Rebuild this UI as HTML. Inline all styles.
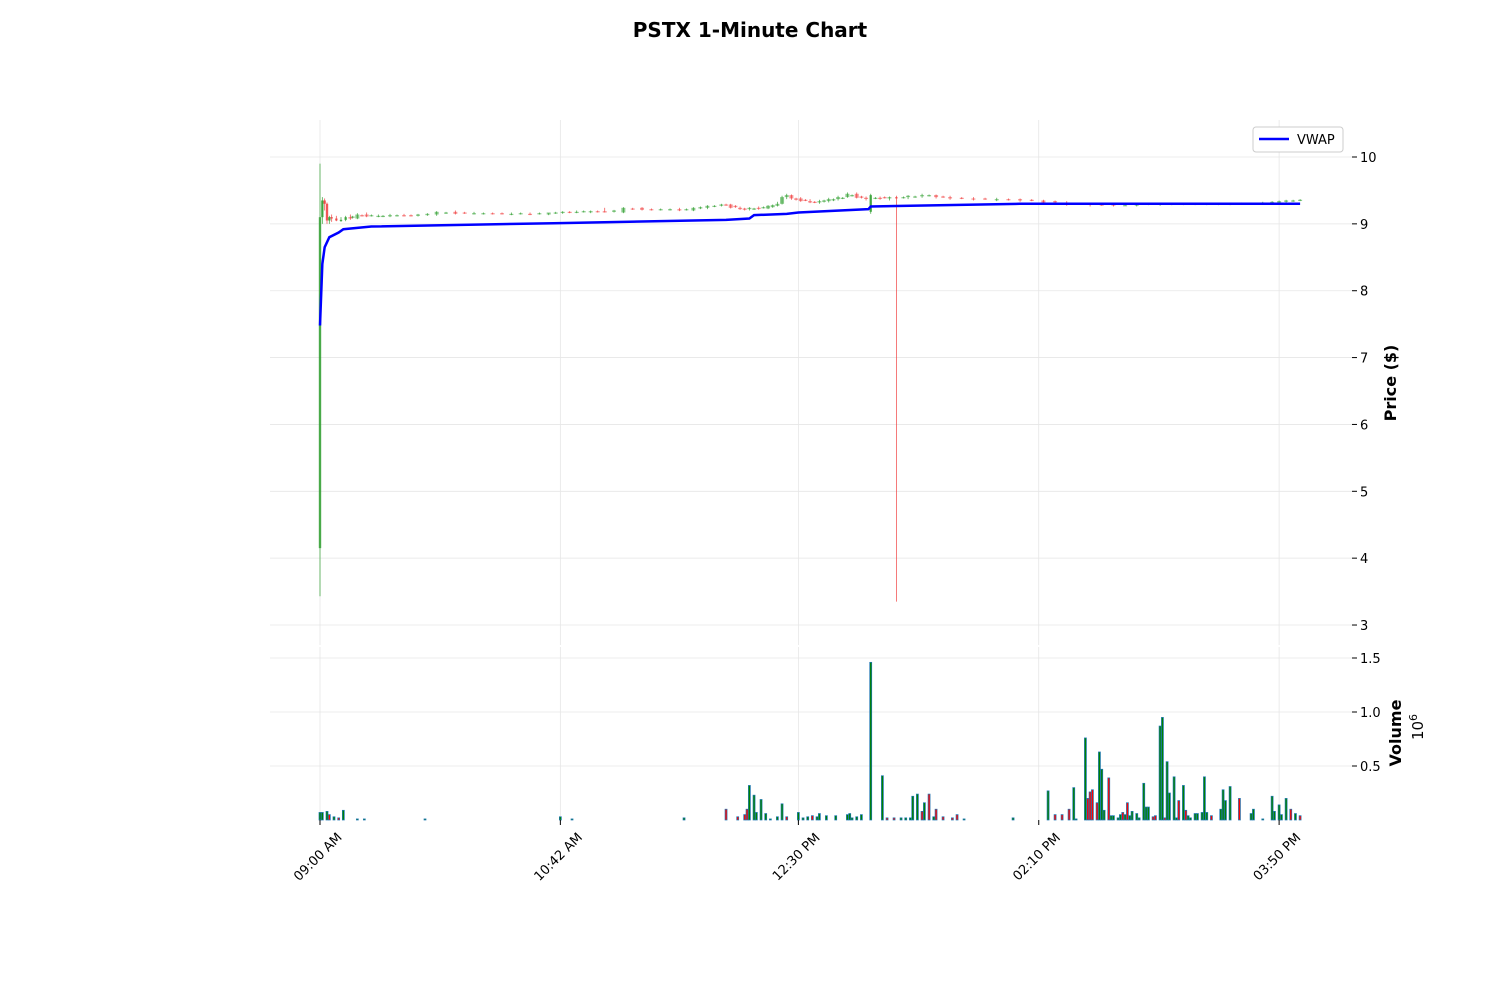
<!DOCTYPE html>
<html><head><meta charset="utf-8"><style>
body{margin:0;background:#fff;font-family:"Liberation Sans",sans-serif}
svg text{font-family:"DejaVu Sans","Liberation Sans",sans-serif}
</style></head><body>
<svg id="c" width="1500" height="1000" viewBox="0 0 1500 1000" xmlns="http://www.w3.org/2000/svg">
<text x="750" y="37" text-anchor="middle" font-size="20" font-weight="bold">PSTX 1-Minute Chart</text>
<g id="grid"></g><g id="candles"></g><g id="vwap"></g><g id="vol"></g><g id="axes"></g>
<g>
<rect x="1253" y="127" width="90" height="25" rx="3" fill="#fff" stroke="#ccc"/>
<line x1="1259" y1="139" x2="1289" y2="139" stroke="#0000ff" stroke-width="2.5"/>
<text x="1297" y="144" font-size="13">VWAP</text>
</g>
</svg>
<script>
const priceTicks=[3,4,5,6,7,8,9,10];
const volTicks=[0.5,1.0,1.5];
const xTickIdx=[0,103,205,308,411];
const xTickLabels=["09:00 AM","10:42 AM","12:30 PM","02:10 PM","03:50 PM"];
// main candles
const cIdx=[0,1,2,3,4,5,7,9,11,13,16,20,25,30,36,42,50,58,66,74,82,90,98,104,110,116,122,130,138,146,154,160,166,172,176,180,184,188,192,196,198,200,202,206,210,214,218,222,226,230,234,236,240,244,247,252,258,264,270,280,290,300,310,320,330,340,350,360,370,380,390,400,408,414,420];
const cOpen=[4.15,9.10,9.35,9.30,9.05,9.10,9.08,9.05,9.06,9.10,9.08,9.14,9.11,9.12,9.13,9.12,9.14,9.18,9.15,9.16,9.15,9.15,9.14,9.17,9.18,9.18,9.19,9.17,9.24,9.21,9.22,9.20,9.24,9.27,9.29,9.24,9.22,9.24,9.23,9.27,9.30,9.40,9.43,9.38,9.34,9.32,9.34,9.37,9.40,9.45,9.39,9.18,9.39,9.38,9.40,9.40,9.42,9.43,9.40,9.38,9.37,9.37,9.35,9.32,9.30,9.29,9.28,9.29,9.30,9.29,9.30,9.30,9.31,9.33,9.35];
const cHigh=[9.90,9.40,9.38,9.32,9.12,9.14,9.12,9.10,9.12,9.14,9.16,9.17,9.14,9.15,9.15,9.15,9.19,9.20,9.18,9.17,9.17,9.17,9.16,9.19,9.20,9.20,9.24,9.25,9.25,9.23,9.24,9.25,9.28,9.30,9.30,9.26,9.25,9.26,9.28,9.33,9.42,9.45,9.44,9.40,9.37,9.36,9.39,9.42,9.47,9.47,9.41,9.45,9.41,9.41,9.42,9.43,9.45,9.44,9.42,9.40,9.39,9.38,9.36,9.34,9.32,9.31,9.30,9.31,9.32,9.31,9.31,9.32,9.34,9.36,9.37];
const cLow=[3.43,9.00,9.20,9.00,9.00,9.03,9.04,9.03,9.04,9.06,9.07,9.10,9.10,9.10,9.11,9.11,9.12,9.14,9.14,9.14,9.13,9.13,9.13,9.15,9.16,9.16,9.17,9.16,9.20,9.20,9.19,9.19,9.22,9.26,9.23,9.21,9.20,9.21,9.22,9.26,9.29,9.37,9.36,9.33,9.31,9.30,9.32,9.35,9.39,9.38,9.35,9.15,9.36,9.35,3.35,9.37,9.39,9.38,9.36,9.35,9.34,9.33,9.30,9.27,9.26,9.26,9.26,9.27,9.28,9.28,9.28,9.29,9.30,9.32,9.34];
const cClose=[9.10,9.35,9.30,9.05,9.10,9.08,9.05,9.06,9.10,9.08,9.14,9.11,9.12,9.13,9.12,9.14,9.18,9.15,9.16,9.15,9.15,9.14,9.17,9.18,9.18,9.19,9.17,9.24,9.21,9.22,9.20,9.24,9.27,9.29,9.24,9.22,9.24,9.23,9.27,9.30,9.40,9.43,9.38,9.34,9.32,9.34,9.37,9.40,9.45,9.39,9.38,9.43,9.38,9.40,9.38,9.42,9.43,9.40,9.38,9.37,9.37,9.35,9.32,9.30,9.29,9.28,9.29,9.30,9.29,9.30,9.30,9.31,9.33,9.35,9.36];
// in-between small candles: open and close
const fIdx=[14,18,22,27,33,39,46,54,62,70,78,86,94,101,107,113,119,126,134,142,150,157,163,169,174,178,182,186,190,194,204,208,212,216,220,224,228,232,238,242,250,255,261,267,275,285,295,305,315,325,335,345,355,365,375,385,395,404,411,417];
const fOpen=[9.09,9.13,9.12,9.11,9.12,9.13,9.13,9.16,9.17,9.15,9.16,9.15,9.15,9.16,9.18,9.18,9.19,9.18,9.23,9.22,9.21,9.21,9.23,9.26,9.29,9.27,9.23,9.22,9.24,9.25,9.38,9.36,9.33,9.33,9.35,9.38,9.42,9.41,9.38,9.40,9.39,9.40,9.42,9.41,9.39,9.38,9.37,9.36,9.34,9.31,9.29,9.28,9.29,9.29,9.30,9.29,9.30,9.31,9.32,9.34];
const fClose=[9.11,9.12,9.13,9.12,9.13,9.12,9.15,9.17,9.16,9.16,9.15,9.16,9.16,9.17,9.17,9.19,9.18,9.20,9.22,9.21,9.22,9.22,9.25,9.27,9.28,9.25,9.21,9.23,9.25,9.28,9.36,9.35,9.32,9.35,9.37,9.39,9.43,9.39,9.39,9.39,9.40,9.41,9.43,9.40,9.38,9.37,9.36,9.35,9.33,9.30,9.28,9.28,9.30,9.30,9.29,9.30,9.31,9.32,9.34,9.35];
// vwap
const vwIdx=[0,1,2,4,8,10,22,100,174,184,186,200,205,235,236,300,420];
const vwVal=[7.48,8.40,8.65,8.80,8.87,8.92,8.96,9.01,9.06,9.08,9.13,9.15,9.17,9.22,9.26,9.30,9.30];
// volume (millions)
const vIdx=[0,1,3,4,6,8,10,16,19,45,103,108,156,174,179,182,183,184,186,187,189,191,193,196,198,200,205,207,209,211,213,214,217,221,226,227,228,230,232,236,241,243,246,249,251,253,254,256,258,259,261,263,264,267,271,273,276,297,312,315,318,321,323,324,328,329,330,331,333,334,335,336,338,339,340,342,343,344,345,346,347,348,350,351,353,354,355,357,358,360,361,362,363,364,366,367,368,370,371,372,373,375,376,378,379,380,382,386,387,388,390,394,399,400,404,408,409,411,412,414,416,418,420];
const vVal=[0.07,0.07,0.08,0.05,0.03,0.02,0.09,0.01,0.01,0.01,0.03,0.01,0.02,0.10,0.03,0.05,0.10,0.32,0.23,0.07,0.19,0.06,0.01,0.03,0.15,0.03,0.07,0.02,0.03,0.04,0.03,0.06,0.04,0.04,0.05,0.06,0.02,0.03,0.05,1.46,0.41,0.02,0.02,0.02,0.02,0.02,0.22,0.24,0.08,0.16,0.24,0.03,0.10,0.03,0.02,0.05,0.01,0.02,0.27,0.05,0.05,0.10,0.30,0.01,0.76,0.20,0.26,0.28,0.16,0.63,0.47,0.09,0.39,0.04,0.04,0.02,0.05,0.07,0.05,0.16,0.04,0.08,0.06,0.02,0.34,0.12,0.12,0.03,0.04,0.87,0.95,0.02,0.54,0.25,0.40,0.02,0.18,0.32,0.09,0.04,0.02,0.06,0.06,0.07,0.40,0.07,0.04,0.10,0.28,0.18,0.31,0.20,0.06,0.10,0.01,0.22,0.08,0.14,0.05,0.20,0.10,0.06,0.04];
const vUp=[1,1,1,0,1,0,1,1,1,1,1,1,1,0,0,0,0,1,1,1,1,1,1,1,1,0,1,1,1,0,1,1,1,1,1,1,1,1,1,1,1,0,0,1,1,1,1,1,0,1,0,1,0,0,0,0,1,1,1,0,0,0,1,1,1,0,0,0,0,1,1,1,0,1,1,1,1,0,1,0,1,1,1,1,1,1,1,0,0,1,1,0,1,1,1,1,0,1,0,1,1,1,1,1,1,1,0,1,1,1,1,0,1,1,1,1,1,1,1,1,0,1,0];

const NS="http://www.w3.org/2000/svg";
const X=i=>320+i*2.3336;
const PY=p=>157+(10-p)*66.86;
const VY=v=>820-v*108;
function mk(tag,attrs,parent){const e=document.createElementNS(NS,tag);for(const k in attrs)e.setAttribute(k,attrs[k]);document.getElementById(parent).appendChild(e);return e;}
priceTicks.forEach(t=>{
  const l=mk('line',{x1:270,x2:1352,y1:PY(t),y2:PY(t),stroke:'#e6e6e6','stroke-width':0.8},'grid');
  
  
  mk('line',{x1:1352,x2:1357,y1:PY(t),y2:PY(t),stroke:'#000','stroke-width':1},'axes');
  const tx=mk('text',{x:1360,y:PY(t)+5,'font-size':13},'axes');tx.textContent=t;
  
  
});
volTicks.forEach(t=>{
  const l=mk('line',{x1:270,x2:1352,y1:VY(t),y2:VY(t),stroke:'#e6e6e6','stroke-width':0.8},'grid');
  
  
  mk('line',{x1:1352,x2:1357,y1:VY(t),y2:VY(t),stroke:'#000','stroke-width':1},'axes');
  const tx=mk('text',{x:1360,y:VY(t)+5,'font-size':13},'axes');tx.textContent=t.toFixed(1);
  
  
});
xTickIdx.forEach((i,k)=>{
  const x=X(i);
  mk('line',{x1:x,x2:x,y1:120,y2:645,stroke:'#e6e6e6','stroke-width':0.8},'grid');
  mk('line',{x1:x,x2:x,y1:647,y2:820,stroke:'#e6e6e6','stroke-width':0.8},'grid');
  mk('line',{x1:x,x2:x,y1:820,y2:825,stroke:'#000','stroke-width':1},'axes');
  const cx=x-2,cy=857;
  const tx=mk('text',{x:cx,y:cy+4,'font-size':13,'text-anchor':'middle',transform:`rotate(-45 ${cx} ${cy})`},'axes');
  tx.textContent=xTickLabels[k];
  
  
});
const yl=mk('text',{x:1396,y:383,'font-size':16,'font-weight':'bold','text-anchor':'middle',transform:'rotate(-90 1396 383)'},'axes');
yl.textContent='Price ($)';


const vl=mk('text',{x:1401,y:733,'font-size':16,'font-weight':'bold','text-anchor':'middle',transform:'rotate(-90 1401 733)'},'axes');
vl.textContent='Volume';


const ex=mk('text',{x:1423,y:727,'font-size':15,'text-anchor':'middle',transform:'rotate(-90 1423 727)'},'axes');
ex.innerHTML='10<tspan dy="-6" font-size="11">6</tspan>';


function candle(i,o,h,l,c,small){
  const up=c>=o;const col=up?'#2e9e2e':'#f03c3c';const x=X(i);
  const w=mk('line',{x1:x,x2:x,y1:PY(h),y2:PY(l),stroke:col,'stroke-width':0.8,opacity:0.85},'candles');
  
  
  const t=PY(Math.max(o,c)),b=PY(Math.min(o,c));
  const r=mk('rect',{x:x-(small?2:1.2),y:t,width:small?4:2.4,height:Math.max(1.2,b-t),fill:col,opacity:small?0.55:0.8},'candles');
  
  
}
fIdx.forEach((i,k)=>candle(i,fOpen[k],Math.max(fOpen[k],fClose[k])+0.01,Math.min(fOpen[k],fClose[k])-0.01,fClose[k],true));
cIdx.forEach((i,k)=>candle(i,cOpen[k],cHigh[k],cLow[k],cClose[k],i>12&&i!==236&&i!==247));
const vp=mk('polyline',{points:vwIdx.map((i,k)=>X(i)+','+PY(vwVal[k])).join(' '),fill:'none',stroke:'#0000ff','stroke-width':2.5},'vwap');


vIdx.forEach((i,k)=>{
  const y=VY(vVal[k]);
  const r=mk('rect',{x:X(i)-1,y:y,width:2,height:820-y,fill:vUp[k]?'#008000':'#ff0000',stroke:'#1f77b4','stroke-width':0.7},'vol');
  
  
});
</script>
</body></html>
